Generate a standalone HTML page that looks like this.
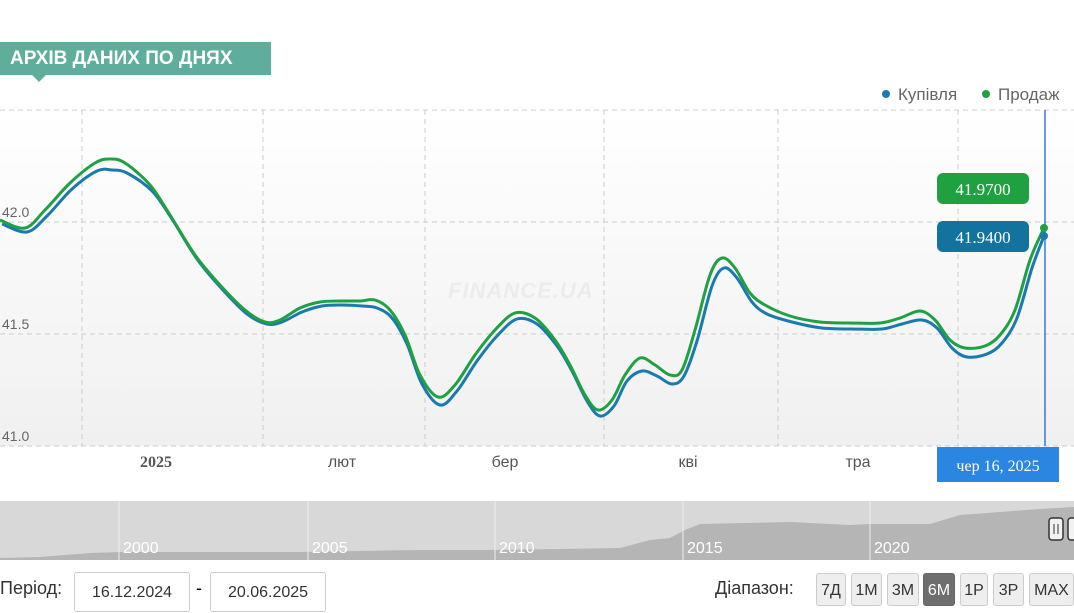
<!DOCTYPE html>
<html><head><meta charset="utf-8"><style>
body{margin:0;width:1074px;height:609px;overflow:hidden;background:#fff;font-family:"Liberation Sans",sans-serif;position:relative}
.a{position:absolute}
.btn{position:absolute;top:573px;height:33px;background:#eee;border:1px solid #ccc;border-radius:3px;font-size:16px;color:#333;text-align:center;line-height:33px;box-sizing:border-box}
</style></head><body>
<svg class="a" style="left:0;top:0" width="1074" height="609">
<defs><linearGradient id="g" x1="0" y1="0" x2="0" y2="1"><stop offset="0" stop-color="#fff"/><stop offset="1" stop-color="#f0f0f0"/></linearGradient></defs>
<rect x="0" y="110" width="1074" height="336" fill="url(#g)"/>
<g stroke="#ccc" stroke-dasharray="5,4" stroke-width="1">
<line x1="0" y1="110" x2="1074" y2="110"/><line x1="0" y1="222" x2="1074" y2="222"/><line x1="0" y1="334" x2="1074" y2="334"/><line x1="0" y1="446" x2="1074" y2="446"/>
<line x1="82" y1="110" x2="82" y2="446"/><line x1="263" y1="110" x2="263" y2="446"/><line x1="425" y1="110" x2="425" y2="446"/><line x1="604" y1="110" x2="604" y2="446"/><line x1="778" y1="110" x2="778" y2="446"/><line x1="958" y1="110" x2="958" y2="446"/>
</g>
<text x="448" y="298" font-size="22" font-style="italic" font-weight="bold" fill="#eaedef" letter-spacing="1">FINANCE.UA</text>
<g font-size="14" fill="#666"><text x="2" y="217">42.0</text><text x="2" y="329">41.5</text><text x="2" y="441">41.0</text></g>
<g font-size="16" fill="#555" text-anchor="middle"><text x="156" y="467" font-weight="bold" font-family="Liberation Serif">2025</text><text x="342" y="467">лют</text><text x="505" y="467">бер</text><text x="688" y="467">кві</text><text x="858" y="467">тра</text></g>
<line x1="1045" y1="110" x2="1045" y2="446" stroke="#3a7bd5" stroke-width="1.5"/>
<path id="pb" transform="translate(2,6)" fill="none" stroke="#1a7ab0" stroke-width="3" stroke-linejoin="round" data-p="0,218 25,226 45,210 70,183 95,165 110,164 125,167 150,185 170,213 195,253 220,283 245,308 265,318 280,316 300,306 320,300 340,299 360,300 375,302 390,312 405,338 420,378 438,399 455,385 475,355 495,330 515,313 535,318 555,340 570,365 585,395 598,410 612,400 625,375 640,365 655,370 670,378 682,370 695,335 710,280 722,262 735,272 750,296 765,308 790,316 820,322 850,323 880,323 900,318 920,314 935,322 950,342 965,351 985,348 1000,337 1015,312 1030,262 1042,230"/>
<path id="pg" fill="none" stroke="#1fa041" stroke-width="3" stroke-linejoin="round" data-p="0,220 25,228 45,210 70,183 95,163 110,159 125,163 150,185 170,215 195,255 220,285 245,310 265,322 280,320 300,308 320,302 340,301 360,301 375,300 390,310 405,335 420,375 438,397 455,385 475,355 495,330 515,313 535,318 555,340 570,365 585,395 598,410 612,400 625,375 640,358 655,365 670,375 682,370 695,330 710,275 722,258 735,268 750,293 765,305 790,316 820,322 850,323 880,323 900,318 920,311 935,320 950,340 965,348 985,346 1000,335 1015,310 1030,260 1044,228"/>
<circle cx="1044" cy="236" r="4" fill="#1a7ab0"/><circle cx="1044" cy="228" r="4" fill="#1fa041"/>
<rect x="937" y="173" width="92" height="31" rx="6" fill="#1fa041"/><text x="983" y="195" font-size="17" fill="#fff" text-anchor="middle" font-family="Liberation Serif">41.9700</text>
<rect x="937" y="221" width="92" height="31" rx="6" fill="#12739f"/><text x="983" y="243" font-size="17" fill="#fff" text-anchor="middle" font-family="Liberation Serif">41.9400</text>
<rect x="937" y="447" width="122" height="35" fill="#2a86e0"/><text x="998" y="471" font-size="16" fill="#fff" text-anchor="middle" font-family="Liberation Serif">чер 16, 2025</text>
<circle cx="886" cy="94" r="4" fill="#1a7ab0"/><text x="898" y="100" font-size="17" fill="#666">Купівля</text>
<circle cx="986" cy="94" r="4" fill="#1fa041"/><text x="998" y="100" font-size="17" fill="#666">Продаж</text>
<rect x="0" y="501" width="1074" height="59" fill="#d8d8d8"/>
<path d="M0,560 L0,558 L40,557 L90,553 L120,552 L300,552 L420,550 L490,550 L560,549 L620,548 L650,540 L670,538 L685,530 L700,524 L790,522 L850,525 L870,524 L930,524 L960,515 L1000,512 L1040,509 L1074,507 L1074,560 Z" fill="#b5b5b5"/>
<g stroke="#eee" stroke-width="1"><line x1="119" y1="501" x2="119" y2="560"/><line x1="308" y1="501" x2="308" y2="560"/><line x1="495" y1="501" x2="495" y2="560"/><line x1="683" y1="501" x2="683" y2="560"/><line x1="870" y1="501" x2="870" y2="560"/></g>
<g font-size="16" fill="#fff"><text x="123" y="553">2000</text><text x="312" y="553">2005</text><text x="499" y="553">2010</text><text x="687" y="553">2015</text><text x="874" y="553">2020</text></g>
<rect x="1049" y="518" width="14" height="22" rx="3" fill="#f2f2f2" stroke="#333" stroke-width="1.5"/><line x1="1054" y1="524" x2="1054" y2="534" stroke="#333"/><line x1="1058" y1="524" x2="1058" y2="534" stroke="#333"/>
<rect x="1068" y="518" width="14" height="22" rx="3" fill="#f2f2f2" stroke="#333" stroke-width="1.5"/>
</svg>
<div class="a" style="left:0;top:42px;width:271px;height:33px;background:#5fae9c;color:#fff;font-weight:bold;font-size:19px;line-height:33px;padding-left:10px;box-sizing:border-box">АРХІВ ДАНИХ ПО ДНЯХ</div>
<div class="a" style="left:32px;top:75px;width:0;height:0;border-left:7px solid transparent;border-right:7px solid transparent;border-top:7px solid #5fae9c"></div>
<div class="a" style="left:0;top:578px;font-size:18px;color:#333">Період:</div>
<div class="a" style="left:74px;top:572px;width:116px;height:40px;border:1px solid #ccc;border-radius:3px;box-sizing:border-box;font-size:16px;line-height:40px;text-align:center;color:#333">16.12.2024</div>
<div class="a" style="left:196px;top:578px;font-size:18px">-</div>
<div class="a" style="left:210px;top:572px;width:116px;height:40px;border:1px solid #ccc;border-radius:3px;box-sizing:border-box;font-size:16px;line-height:40px;text-align:center;color:#333">20.06.2025</div>
<div class="a" style="left:715px;top:578px;font-size:18px;color:#333">Діапазон:</div>
<div class="btn" style="left:816px;width:30px">7Д</div>
<div class="btn" style="left:851px;width:31px">1М</div>
<div class="btn" style="left:887px;width:32px">3М</div>
<div class="btn" style="left:923px;width:32px;background:#6e6e6e;color:#fff;border-color:#666">6М</div>
<div class="btn" style="left:960px;width:28px">1Р</div>
<div class="btn" style="left:993px;width:31px">3Р</div>
<div class="btn" style="left:1029px;width:45px">MAX</div>
<script>
['pb','pg'].forEach(function(id){var el=document.getElementById(id);var p=el.getAttribute('data-p').split(' ').map(function(s){return s.split(',').map(Number)});
var d='M'+p[0][0]+','+p[0][1];for(var i=0;i<p.length-1;i++){var a=p[i-1]||p[i],b=p[i],c=p[i+1],e=p[i+2]||c;
var c1=[b[0]+(c[0]-a[0])/6,b[1]+(c[1]-a[1])/6],c2=[c[0]-(e[0]-b[0])/6,c[1]-(e[1]-b[1])/6];
d+=' C'+c1[0]+','+c1[1]+' '+c2[0]+','+c2[1]+' '+c[0]+','+c[1];}el.setAttribute('d',d);});
</script>
</body></html>
